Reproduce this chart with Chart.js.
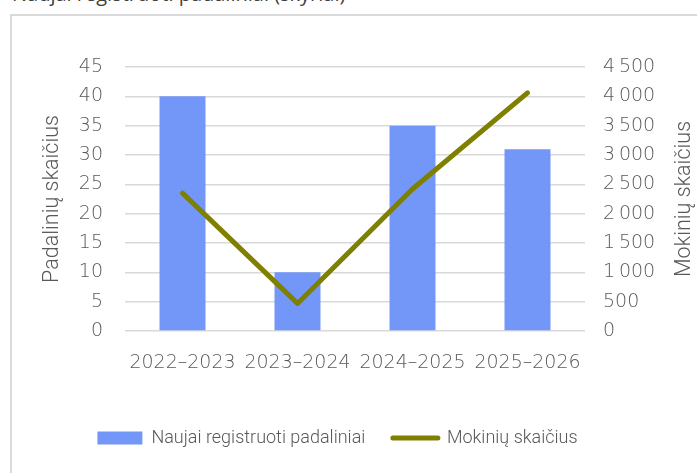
<!DOCTYPE html>
<html>
<head>
<meta charset="utf-8">
<script src="https://cdn.jsdelivr.net/npm/chart.js@4/dist/chart.umd.min.js"></script>
<style>
  body { margin: 0; background: #fff; overflow: hidden; }
  #title {
    position: absolute; left: 12px; top: -17px;
    font: 20px "Open Sans", sans-serif; line-height: 22px; color: #404040;
    white-space: nowrap;
  }
  #frame {
    position: absolute; left: 10px; top: 14px; width: 700px; height: 480px;
    border: 2px solid #d9d9d9; box-sizing: border-box;
  }
  #wrap { position: absolute; left: 0; top: 0; width: 697px; height: 473px; }
</style>
</head>
<body>
<div id="title">Naujai registruoti padaliniai (skyriai)</div>
<div id="frame"></div>
<div id="wrap"><canvas id="chart"></canvas></div>
<script>
const years = ["2022–2023", "2023–2024", "2024–2025", "2025–2026"];
const unitCounts = [40, 10, 35, 31];
const studentCounts = [2350, 470, 2420, 4060];

const grey = "#595959";
const numFont = "'DejaVu Sans', sans-serif";
const textFont = "Roboto, 'Liberation Sans', sans-serif";
const tickFont = { family: numFont, size: 19, weight: 200 };

function spaced(v) {
  return v >= 1000 ? Math.floor(v / 1000) + "\u2009" + String(v % 1000).padStart(3, "0") : String(v);
}

// right axis title reads bottom-to-top in the original
const rightTitle = {
  id: "rightTitle",
  afterDraw(chart) {
    const c = chart.ctx;
    const a = chart.chartArea;
    c.save();
    c.translate(chart.width - 12, (a.top + a.bottom) / 2);
    c.rotate(-Math.PI / 2);
    c.font = "300 21.5px " + textFont;
    c.fillStyle = grey;
    c.textAlign = "center";
    c.textBaseline = "middle";
    c.fillText("Mokinių skaičius", 0, 0);
    c.restore();
  },
};

const ctx = document.getElementById("chart");

const config = {
  type: "bar",
  data: {
    labels: years,
    datasets: [
      {
        type: "line",
        label: "Mokinių skaičius",
        data: studentCounts,
        borderColor: "#808000",
        backgroundColor: "#808000",
        borderWidth: 5,
        borderCapStyle: "round",
        borderJoinStyle: "round",
        pointRadius: 0,
        tension: 0,
        yAxisID: "y2",
      },
      {
        label: "Naujai registruoti padaliniai",
        data: unitCounts,
        backgroundColor: "#7297F8",
        barPercentage: 0.8,
        categoryPercentage: 0.5,
        yAxisID: "y1",
      },
    ],
  },
  options: {
    responsive: true,
    maintainAspectRatio: false,
    animation: false,
    layout: { padding: { top: 67, bottom: 16, left: 0, right: 22 } },
    plugins: {
      tooltip: { enabled: false },
      legend: {
        position: "bottom",
        labels: {
          color: grey,
          font: { family: textFont, size: 18, weight: 300 },
          usePointStyle: true,
          pointStyleWidth: 45,
          boxHeight: 13,
          padding: 10,
          generateLabels: (chart) => {
            const items = Chart.defaults.plugins.legend.labels.generateLabels(chart);
            items.forEach((it) => {
              if (it.datasetIndex === 0) {
                it.pointStyle = "line";
                it.lineWidth = 5;
                it.lineCap = "round";
                it.strokeStyle = "#808000";
              } else {
                it.pointStyle = "rect";
                it.lineWidth = 0;
                it.fillStyle = "#7297F8";
                it.text += "\u00A0\u00A0\u00A0\u00A0";
              }
            });
            return items.reverse();
          },
        },
      },
    },
    scales: {
      x: {
        grid: { display: false },
        border: { display: false },
        ticks: { color: grey, font: tickFont, padding: 13, maxRotation: 0, autoSkip: false },
        afterFit: (s) => { s.height = 88; },
      },
      y1: {
        position: "left",
        min: 0,
        max: 45,
        ticks: { stepSize: 5, color: grey, font: tickFont, padding: 22 },
        grid: { color: "#d9d9d9", lineWidth: 1.5, drawTicks: false },
        border: { display: false },
        title: {
          display: true,
          text: "Padalinių skaičius",
          color: grey,
          font: { family: textFont, size: 21.5, weight: 300 },
          padding: { top: 40, bottom: 0 },
        },
        afterFit: (s) => { s.width = 125; },
      },
      y2: {
        position: "right",
        min: 0,
        max: 4500,
        ticks: { stepSize: 500, color: grey, font: tickFont, padding: 18, callback: (v) => spaced(v) },
        grid: { display: false, drawTicks: false },
        border: { display: false },
        afterFit: (s) => { s.width = 90; },
      },
    },
  },
  plugins: [rightTitle],
};

const chart = new Chart(ctx, config);
</script>
</body>
</html>
